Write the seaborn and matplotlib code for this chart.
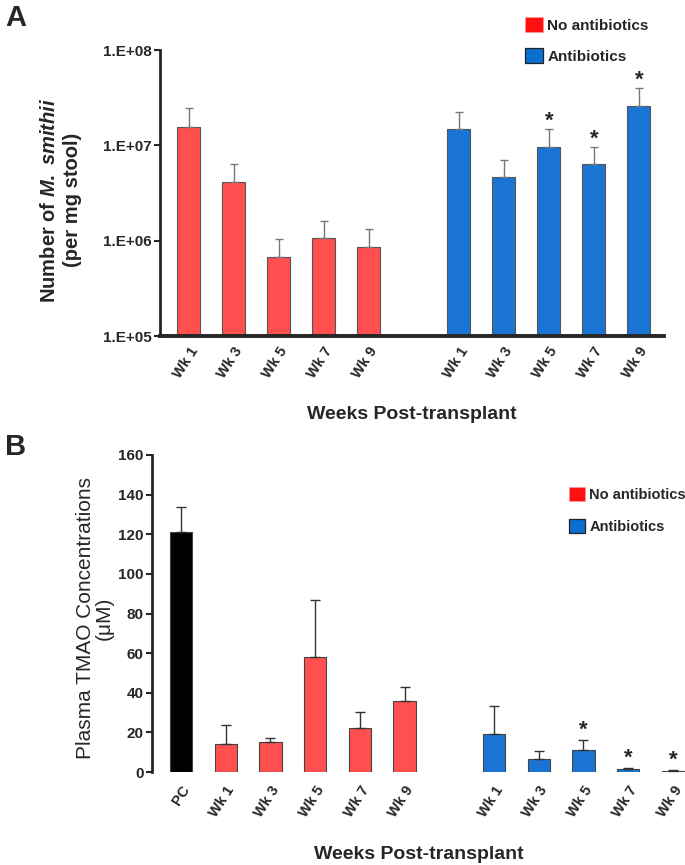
import numpy as np
import pandas as pd
import matplotlib
matplotlib.use("Agg")
import matplotlib.pyplot as plt
from matplotlib.patches import Patch
import seaborn as sns

# --- data ---
weeks = ["Wk 1", "Wk 3", "Wk 5", "Wk 7", "Wk 9"]

# panel A: M. smithii per mg stool (log scale)
msmithii_noabx = [1.55e7, 4.1e6, 6.8e5, 1.07e6, 8.5e5]
msmithii_noabx_err = [2.45e7, 6.3e6, 1.03e6, 1.62e6, 1.32e6]
msmithii_abx = [1.47e7, 4.7e6, 9.6e6, 6.3e6, 2.58e7]
msmithii_abx_err = [2.23e7, 7.1e6, 1.47e7, 9.5e6, 3.95e7]
msmithii_abx_sig = [False, False, True, True, True]

# panel B: plasma TMAO (uM)
tmao_pc = 121.0
tmao_pc_err = 134.0
tmao_noabx = [14.0, 15.3, 57.9, 22.4, 36.0]
tmao_noabx_err = [23.7, 17.0, 86.7, 30.5, 43.1]
tmao_abx = [19.2, 6.4, 11.3, 1.5, 0.7]
tmao_abx_err = [33.5, 10.8, 16.2, 2.2, 0.9]
tmao_abx_sig = [False, False, True, True, True]

a_ticks = [1e5, 1e6, 1e7, 1e8]
a_ticklabels = ["1.E+05", "1.E+06", "1.E+07", "1.E+08"]
b_ticks = [0, 20, 40, 60, 80, 100, 120, 140, 160]

RED = "#ff4f4f"
BLUE = "#1a74d4"
LEG_RED = "#ff1010"
LEG_BLUE = "#0b6fd0"

sns.set_style("ticks")
plt.rcParams["font.family"] = ["Liberation Sans", "DejaVu Sans"]
plt.rcParams["mathtext.fontset"] = "custom"
plt.rcParams["mathtext.it"] = "Liberation Sans:bold:italic"
plt.rcParams["mathtext.rm"] = "Liberation Sans:bold"

fig = plt.figure(figsize=(6.85, 8.65), dpi=100)


def legend_handles():
    return [Patch(facecolor=LEG_RED, edgecolor="#ff9999", linewidth=0.5, label="No antibiotics"),
            Patch(facecolor=LEG_BLUE, edgecolor="#222222", linewidth=0.9, label="Antibiotics")]


# ---------------- panel A ----------------
axA = fig.add_axes([160 / 685, 1 - 336 / 865, 504 / 685, 286 / 865])
posA = list(range(0, 5)) + list(range(6, 11))
dfA = pd.DataFrame({
    "pos": posA,
    "value": msmithii_noabx + msmithii_abx,
    "top": msmithii_noabx_err + msmithii_abx_err,
    "group": ["No antibiotics"] * 5 + ["Antibiotics"] * 5,
})
axA.set_yscale("log")
sns.barplot(data=dfA, x="pos", y="value", hue="group", native_scale=True,
            palette={"No antibiotics": RED, "Antibiotics": BLUE}, saturation=1,
            width=0.52, dodge=False, errorbar=None, legend=False,
            edgecolor="#555555", linewidth=0.8, ax=axA)
axA.errorbar(dfA["pos"], dfA["value"],
             yerr=[np.zeros(len(dfA)), dfA["top"] - dfA["value"]],
             fmt="none", ecolor="#777777", elinewidth=1, capsize=3, capthick=1)
for p, t, s in zip(posA[5:], msmithii_abx_err, msmithii_abx_sig):
    if s:
        axA.text(p, t * 0.95, "*", ha="center", va="bottom", fontsize=16,
                 fontweight="bold")
axA.set_ylim(1e5, 1e8)
axA.set_xlim(-0.64, 10.56)
axA.set_yticks(a_ticks)
axA.set_yticklabels(a_ticklabels, fontsize=11, fontweight="bold")
axA.yaxis.set_minor_locator(matplotlib.ticker.NullLocator())
axA.set_xticks(posA)
axA.set_xticklabels(weeks + weeks, rotation=57, ha="right", rotation_mode="anchor",
                    fontsize=10.5, fontweight="bold")
axA.tick_params(axis="x", length=0, pad=6)
axA.tick_params(axis="y", length=4, width=1.5, pad=2)
sns.despine(ax=axA)
axA.spines["left"].set_linewidth(2)
axA.spines["bottom"].set_linewidth(2.8)
axA.set_ylabel("Number of $\\it{M.\\ smithii}$\n(per mg stool)", fontsize=14.5,
               fontweight="bold", linespacing=1.25)
axA.yaxis.set_label_coords(-0.155, 0.475)
axA.set_xlabel("Weeks Post-transplant", fontsize=14, fontweight="bold")
axA.xaxis.set_label_coords(0.5, -0.245)
fig.legend(handles=legend_handles(),
           loc="upper left", bbox_to_anchor=(525 / 685, 1 - 17 / 865), frameon=False,
           handlelength=1.15, handleheight=1.15, labelspacing=1.0, handletextpad=0.3,
           borderpad=0, borderaxespad=0, prop={"size": 11, "weight": "bold"})
fig.text(5 / 685, 1 - 4 / 865, "A", fontsize=21, fontweight="bold", va="top")

# ---------------- panel B ----------------
axB = fig.add_axes([152 / 685, 1 - 772 / 865, 533 / 685, 317 / 865])
posB = list(range(0, 6)) + list(range(7, 12))
dfB = pd.DataFrame({
    "pos": posB,
    "value": [tmao_pc] + tmao_noabx + tmao_abx,
    "top": [tmao_pc_err] + tmao_noabx_err + tmao_abx_err,
    "group": ["PC"] + ["No antibiotics"] * 5 + ["Antibiotics"] * 5,
})
sns.barplot(data=dfB, x="pos", y="value", hue="group", native_scale=True,
            palette={"PC": "black", "No antibiotics": RED, "Antibiotics": BLUE}, saturation=1,
            width=0.5, dodge=False, errorbar=None, legend=False,
            edgecolor="#444444", linewidth=0.8, ax=axB)
axB.errorbar(dfB["pos"], dfB["value"],
             yerr=[np.zeros(len(dfB)), dfB["top"] - dfB["value"]],
             fmt="none", ecolor="#333333", elinewidth=1, capsize=3.5, capthick=1)
for p, t, s in zip(posB[6:], tmao_abx_err, tmao_abx_sig):
    if s:
        axB.text(p, t - 0.5, "*", ha="center", va="bottom", fontsize=16,
                 fontweight="bold")
axB.set_ylim(0, 160)
axB.set_xlim(-0.65, 11.27)
axB.set_yticks(b_ticks)
axB.set_yticklabels([str(v) for v in b_ticks], fontsize=11, fontweight="bold")
axB.set_xticks(posB)
axB.set_xticklabels(["PC"] + weeks + weeks, rotation=57, ha="right", rotation_mode="anchor",
                    fontsize=10.5, fontweight="bold")
axB.tick_params(axis="x", length=0, pad=8)
axB.tick_params(axis="y", length=4, width=1.5, pad=2)
sns.despine(ax=axB, bottom=True)
axB.spines["left"].set_linewidth(2)
axB.set_ylabel("Plasma TMAO Concentrations\n(\u03bcM)", fontsize=15, linespacing=1.0)
axB.yaxis.set_label_coords(-0.071, 0.485)
axB.set_xlabel("Weeks Post-transplant", fontsize=14, fontweight="bold")
axB.xaxis.set_label_coords(0.5, -0.235)
fig.legend(handles=legend_handles(),
           loc="upper left", bbox_to_anchor=(569 / 685, 1 - 487 / 865), frameon=False,
           handlelength=1.1, handleheight=1.05, labelspacing=1.2, handletextpad=0.3,
           borderpad=0, borderaxespad=0, prop={"size": 10.5, "weight": "bold"})
fig.text(5 / 685, 1 - 433 / 865, "B", fontsize=21, fontweight="bold", va="top")

fig.savefig("out.png", dpi=100)
